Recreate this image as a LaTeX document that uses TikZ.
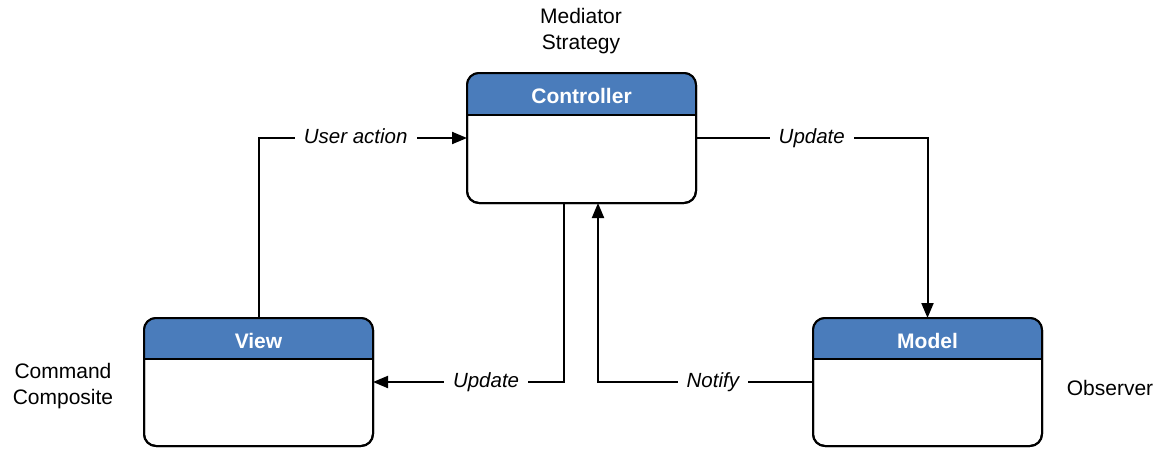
\documentclass[tikz,border=0pt]{standalone}
\usepackage{fontspec}
\setmainfont{Liberation Sans}
\usetikzlibrary{arrows.meta}
\definecolor{hdrblue}{HTML}{4A7CBB}
\tikzset{
  boxshape/.style={draw=black, line width=2pt, rounded corners=12pt, fill=white,
    minimum width=229pt, inner sep=0pt, outer sep=0pt},
  title/.style={text=white, font=\fontsize{21}{25}\selectfont\bfseries},
  wire/.style={line width=2pt, draw=black},
  arrowed/.style={wire, -{Triangle[length=15pt,width=12pt]}},
  lbl/.style={fill=white, inner sep=9pt, text height=15pt, text depth=4.5pt,
    font=\fontsize{20.5}{25}\selectfont\itshape},
  note/.style={align=center, font=\fontsize{21}{26}\selectfont},
}
% class-like box: white body, blue header band, title
\newcommand{\classbox}[5]{% name, x, y, height, header height
  \node[boxshape, minimum height=#4pt] (#1) at (#2,#3) {};
  \begin{scope}
    \clip[rounded corners=12pt] (#1.north west) rectangle (#1.south east);
    \fill[hdrblue] (#1.north west) rectangle ([yshift=-#5pt]#1.north east);
  \end{scope}
  \draw[line width=2pt] ([yshift=-#5pt]#1.north west) -- ([yshift=-#5pt]#1.north east);
  \draw[line width=2pt, rounded corners=12pt] (#1.north west) rectangle (#1.south east);
}
\begin{document}
\begin{tikzpicture}[x=1pt,y=-1pt]
  \useasboundingbox (0,0) rectangle (1165,448);

  \classbox{ctrl}{581.5}{138}{130}{42}
  \node[title] at ([yshift=-23pt]ctrl.north) {Controller};
  \classbox{view}{258.5}{382}{128}{41}
  \node[title] at ([yshift=-22.5pt]view.north) {View};
  \classbox{model}{927.5}{382}{128}{41}
  \node[title] at ([yshift=-22.5pt]model.north) {Model};

  \coordinate (cdown) at ([xshift=-17.5pt]ctrl.south);
  \coordinate (cup) at ([xshift=16.5pt]ctrl.south);

  \draw[arrowed] (view.north) |- (ctrl.west) node[lbl, pos=0.733] {User action};
  \draw[arrowed] (ctrl.east) -| (model.north) node[lbl, pos=0.25] {Update};
  \draw[arrowed] (cdown) |- (view.east) node[lbl, pos=0.704] {Update};
  \draw[arrowed] (model.west) -| (cup) node[lbl, pos=0.233] {Notify};

  \node[note] (pat1) at (581,31) {Mediator\\Strategy};
  \node[note] (pat2) at (63,386) {Command\\Composite};
  \node[note] (pat3) at (1110,388) {Observer};
\end{tikzpicture}
\end{document}
